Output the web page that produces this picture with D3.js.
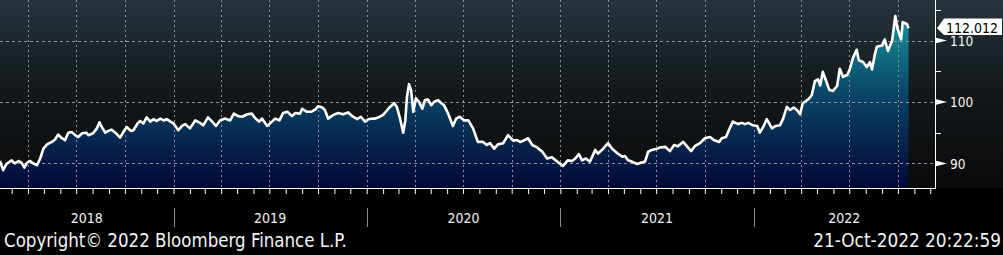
<!DOCTYPE html>
<html><head><meta charset="utf-8">
<script src="https://cdn.jsdelivr.net/npm/d3@7"></script>
<style>body{margin:0;background:#000;overflow:hidden}svg{display:block}</style>
</head><body>
<svg id="chart" width="1003" height="255"></svg>
<script>
// ---- data ----
const dates = [
"2018-02-07","2018-02-13","2018-02-19","2018-03-01","2018-03-07","2018-03-14","2018-03-20","2018-03-25","2018-03-30","2018-04-05",
"2018-04-11","2018-04-18","2018-04-24","2018-04-30","2018-05-07","2018-05-16","2018-05-22","2018-05-28","2018-06-04","2018-06-10",
"2018-06-16","2018-06-23","2018-06-29","2018-07-05","2018-07-12","2018-07-20","2018-07-24","2018-08-02","2018-08-09","2018-08-14",
"2018-08-18","2018-08-25","2018-08-31","2018-09-06","2018-09-13","2018-09-22","2018-09-30","2018-10-05","2018-10-12","2018-10-17",
"2018-10-25","2018-10-30","2018-11-05","2018-11-11","2018-11-18","2018-11-24","2018-11-30","2018-12-07","2018-12-13","2018-12-19",
"2018-12-26","2019-01-01","2019-01-10","2019-01-17","2019-01-23","2019-02-01","2019-02-11","2019-02-20","2019-02-26","2019-03-07",
"2019-03-15","2019-03-22","2019-03-30","2019-04-08","2019-04-18","2019-04-25","2019-05-03","2019-05-11","2019-05-20","2019-05-29",
"2019-06-04","2019-06-12","2019-06-17","2019-06-27","2019-07-06","2019-07-12","2019-07-20","2019-07-27","2019-08-04","2019-08-13",
"2019-08-19","2019-08-28","2019-09-01","2019-09-10","2019-09-18","2019-09-26","2019-10-01","2019-10-09","2019-10-14","2019-10-20",
"2019-10-30","2019-11-08","2019-11-17","2019-11-27","2019-12-06","2019-12-14","2019-12-21","2019-12-29","2020-01-04","2020-01-13",
"2020-01-17","2020-01-26","2020-02-01","2020-02-09","2020-02-14","2020-02-22","2020-02-27","2020-03-04","2020-03-10","2020-03-14",
"2020-03-17","2020-03-21","2020-03-25","2020-03-29","2020-04-03","2020-04-09","2020-04-15","2020-04-20","2020-04-26","2020-05-02",
"2020-05-07","2020-05-15","2020-05-21","2020-05-26","2020-06-03","2020-06-12","2020-06-18","2020-06-25","2020-07-03","2020-07-11",
"2020-07-20","2020-07-29","2020-08-08","2020-08-15","2020-08-21","2020-08-29","2020-09-05","2020-09-15","2020-09-24","2020-10-04",
"2020-10-11","2020-10-17","2020-10-23","2020-11-01","2020-11-09","2020-11-18","2020-11-28","2020-12-07","2020-12-16","2020-12-26",
"2021-01-06","2021-01-15","2021-01-23","2021-01-29","2021-02-05","2021-02-11","2021-02-18","2021-02-26","2021-03-08","2021-03-13",
"2021-03-23","2021-04-01","2021-04-09","2021-04-18","2021-04-28","2021-05-03","2021-05-09","2021-05-16","2021-05-26","2021-06-02",
"2021-06-10","2021-06-16","2021-06-23","2021-07-03","2021-07-08","2021-07-18","2021-07-27","2021-08-04","2021-08-11","2021-08-21",
"2021-08-28","2021-09-05","2021-09-12","2021-09-22","2021-10-01","2021-10-11","2021-10-18","2021-10-28","2021-11-02","2021-11-10",
"2021-11-16","2021-11-23","2021-12-03","2021-12-10","2021-12-16","2021-12-22","2021-12-31","2022-01-08","2022-01-13","2022-01-19",
"2022-01-26","2022-02-05","2022-02-12","2022-02-20","2022-02-26","2022-03-05","2022-03-11","2022-03-18","2022-03-24","2022-03-30",
"2022-04-04","2022-04-14","2022-04-21","2022-04-27","2022-05-03","2022-05-07","2022-05-12","2022-05-18","2022-05-24","2022-05-31",
"2022-06-08","2022-06-13","2022-06-19","2022-06-27","2022-07-02","2022-07-08","2022-07-15","2022-07-19","2022-07-27","2022-08-03",
"2022-08-09","2022-08-13","2022-08-18","2022-08-22","2022-09-01","2022-09-06","2022-09-12","2022-09-20","2022-09-26","2022-09-30",
"2022-10-07","2022-10-10","2022-10-18","2022-10-21"
];
const values = [
90.4,88.9,89.9,90.5,90.0,90.4,90.1,89.3,90.1,90.4,
90.0,89.7,90.8,92.4,93.1,93.5,93.9,94.7,94.1,93.8,
95.0,95.1,94.6,94.3,94.9,95.0,94.6,94.9,95.7,96.7,
96.0,95.0,95.3,95.5,95.0,94.2,95.4,95.9,95.3,95.4,
96.5,96.9,96.5,97.5,96.8,97.2,96.9,97.3,97.0,97.2,
96.8,96.5,95.4,96.1,96.4,95.7,97.0,96.6,96.2,97.5,
96.8,96.1,97.0,97.3,97.0,98.1,97.7,97.6,98.0,98.1,
97.4,96.8,97.3,96.1,96.8,97.3,97.0,98.2,98.4,97.7,
98.2,98.1,98.9,98.4,98.4,98.8,99.3,99.1,98.7,97.3,
97.9,98.2,98.0,98.3,97.6,97.2,97.6,96.8,97.2,97.3,
97.3,97.6,97.9,98.7,99.2,99.8,99.2,97.3,95.0,97.0,
100.8,102.9,101.9,98.4,100.6,100.0,98.9,100.3,100.4,99.5,
100.0,100.3,99.8,99.5,98.1,96.1,97.3,97.6,97.0,97.0,
95.7,93.5,93.5,93.0,93.3,92.4,93.1,93.3,94.6,93.7,
93.8,93.5,93.7,94.1,93.0,92.6,91.9,90.8,91.0,90.3,
89.6,90.5,90.4,90.8,91.5,90.5,90.8,90.3,92.2,91.6,
92.4,93.3,92.4,91.7,91.1,91.2,90.5,90.3,89.9,90.1,
90.3,91.9,92.2,92.4,92.6,92.7,92.0,93.0,92.8,93.5,
92.8,92.0,92.8,93.3,94.1,94.3,93.8,93.5,94.1,94.3,
95.5,96.8,96.4,96.6,96.4,96.6,96.2,96.1,95.0,95.9,
97.2,95.7,96.1,96.2,97.3,99.2,98.7,99.1,98.7,98.0,
99.8,100.4,101.1,103.4,103.7,102.7,104.9,103.5,102.0,101.8,
102.6,105.4,104.1,104.4,105.3,107.2,108.5,106.8,106.5,105.7,
106.5,105.3,107.6,109.0,109.2,110.2,108.3,110.0,114.0,112.0,
110.2,113.0,112.7,112.012
];
const yMajorTicks = [90, 100, 110];
const yMinorTicks = [95, 105, 115];
const yearLabels = ["2018", "2019", "2020", "2021", "2022"];
const lastValueLabel = "112.012";
const copyrightText = "Copyright\u00A9 2022 Bloomberg Finance L.P.";
const timestampText = "21-Oct-2022 20:22:59";
const xDomain = ["2018-02-07", "2022-12-10"];
const yDomain = [86.0, 116.6];

// ---- layout ----
const W = 1003, H = 255;
const plotR = 935, plotB = 188;
const FONT = "'DejaVu Sans Condensed','DejaVu Sans',sans-serif";
const parse = d3.utcParse("%Y-%m-%d");
const data = dates.map((d, i) => ({date: parse(d), value: values[i]}));

const x = d3.scaleUtc().domain(xDomain.map(parse)).range([0, plotR]);
const y = d3.scaleLinear().domain(yDomain).range([plotB, 0]);

const svg = d3.select("#chart");
const defs = svg.append("defs");

const bg = defs.append("linearGradient").attr("id", "bg")
  .attr("gradientUnits", "userSpaceOnUse").attr("x1", 0).attr("y1", 0).attr("x2", 0).attr("y2", plotB);
[[0, "#26343e"], [0.45, "#14191c"], [1, "#0a0a0b"]].forEach(s =>
  bg.append("stop").attr("offset", s[0]).attr("stop-color", s[1]));

const ag = defs.append("linearGradient").attr("id", "areaGrad")
  .attr("gradientUnits", "userSpaceOnUse").attr("x1", 0).attr("y1", 0).attr("x2", 0).attr("y2", plotB);
[[0, "#1897a3"], [0.2, "#127e8e"], [0.5, "#0b4568"], [0.75, "#06264e"], [1, "#020838"]].forEach(s =>
  ag.append("stop").attr("offset", s[0]).attr("stop-color", s[1]));

svg.append("rect").attr("width", W).attr("height", H).attr("fill", "#000");
svg.append("rect").attr("width", W).attr("height", plotB).attr("fill", "url(#bg)");

// area
svg.append("path").datum(data)
  .attr("fill", "url(#areaGrad)")
  .attr("d", d3.area().x(d => x(d.date)).y0(plotB).y1(d => y(d.value)));

// gridlines
const g = svg.append("g");
g.selectAll(".hg").data(yMajorTicks).join("line")
  .attr("x1", 0).attr("x2", plotR).attr("y1", d => Math.round(y(d)) + 0.5).attr("y2", d => Math.round(y(d)) + 0.5)
  .attr("stroke", "#8b9196").attr("stroke-width", 1).attr("stroke-dasharray", "3,3");
const quarters = d3.utcMonth.every(3).range(x.domain()[0], x.domain()[1]);
g.selectAll(".vg").data(quarters).join("line")
  .attr("x1", d => Math.round(x(d)) + 0.5).attr("x2", d => Math.round(x(d)) + 0.5)
  .attr("y1", 0).attr("y2", plotB)
  .attr("stroke", "#8b9196").attr("stroke-width", 1).attr("stroke-dasharray", "2,3");

// line
svg.append("path").datum(data)
  .attr("fill", "none").attr("stroke", "#ffffff").attr("stroke-width", 2.6)
  .attr("stroke-linejoin", "round")
  .attr("d", d3.line().x(d => x(d.date)).y(d => y(d.value)));

// bottom axis (monthly ticks)
const xAxis = d3.axisBottom(x).ticks(d3.utcMonth.every(1)).tickSize(6).tickFormat("");
const xa = svg.append("g").attr("transform", `translate(0,${plotB})`).call(xAxis);
xa.select(".domain").attr("stroke", "#fff").attr("d", `M0,0.5H${plotR}`);
xa.selectAll(".tick line").attr("stroke", "#fff");

// right axis line + ticks
svg.append("line").attr("x1", plotR + 0.5).attr("x2", plotR + 0.5).attr("y1", 0).attr("y2", plotB + 1)
  .attr("stroke", "#fff");
svg.selectAll(".ymin").data(yMinorTicks).join("line")
  .attr("x1", plotR).attr("x2", plotR + 6).attr("y1", d => Math.round(y(d)) + 0.5).attr("y2", d => Math.round(y(d)) + 0.5)
  .attr("stroke", "#fff");
svg.selectAll(".ymaj").data(yMajorTicks).join("path")
  .attr("d", d => { const yy = y(d); return `M${plotR},${yy - 3}L${plotR + 12},${yy}L${plotR},${yy + 3}Z`; })
  .attr("fill", "#fff");
svg.selectAll(".ylab").data(yMajorTicks).join("text")
  .attr("x", 950).attr("y", d => y(d) + 5.5)
  .attr("fill", "#f2f4f6").attr("font-family", FONT).attr("font-size", 13.5)
  .text(d => d);

// last value label
const lv = y(values[values.length - 1]);
svg.append("path")
  .attr("d", `M937,${lv}L944,${lv - 9.8}H1002V${lv + 6.8}H944Z`)
  .attr("fill", "#fff");
svg.append("text").attr("x", 946).attr("y", lv + 4.6)
  .attr("fill", "#000").attr("font-family", FONT).attr("font-size", 14)
  .text(lastValueLabel);

// year separators and labels
const years = d3.utcYear.range(d3.utcYear.floor(x.domain()[0]), x.domain()[1]);
svg.selectAll(".ysep").data(years.filter(d => x(d) > 0)).join("line")
  .attr("x1", d => Math.round(x(d)) + 0.5).attr("x2", d => Math.round(x(d)) + 0.5)
  .attr("y1", 208).attr("y2", 227).attr("stroke", "#8a8a8a");
svg.selectAll(".ylbl").data(years).join("text")
  .attr("x", (d, i) => (Math.max(0, x(d)) + Math.min(plotR, x(d3.utcYear.offset(d, 1)))) / 2)
  .attr("y", 222.7).attr("text-anchor", "middle")
  .attr("fill", "#f2f4f6").attr("font-family", FONT).attr("font-size", 14)
  .text((d, i) => yearLabels[i]);

// footer
function fit(sel, w) {
  const n = sel.node(); const cur = n.getComputedTextLength();
  const fs = parseFloat(sel.attr("font-size"));
  sel.attr("font-size", (fs * w / cur).toFixed(2));
}
const c = svg.append("text").attr("x", 4).attr("y", 247.3)
  .attr("fill", "#f2f4f6").attr("font-family", FONT).attr("font-size", 18).text(copyrightText);
fit(c, 343);
const t = svg.append("text").attr("x", 1001).attr("y", 247.3).attr("text-anchor", "end")
  .attr("fill", "#f2f4f6").attr("font-family", FONT).attr("font-size", 18).text(timestampText);
fit(t, 188);
</script>
</body></html>
